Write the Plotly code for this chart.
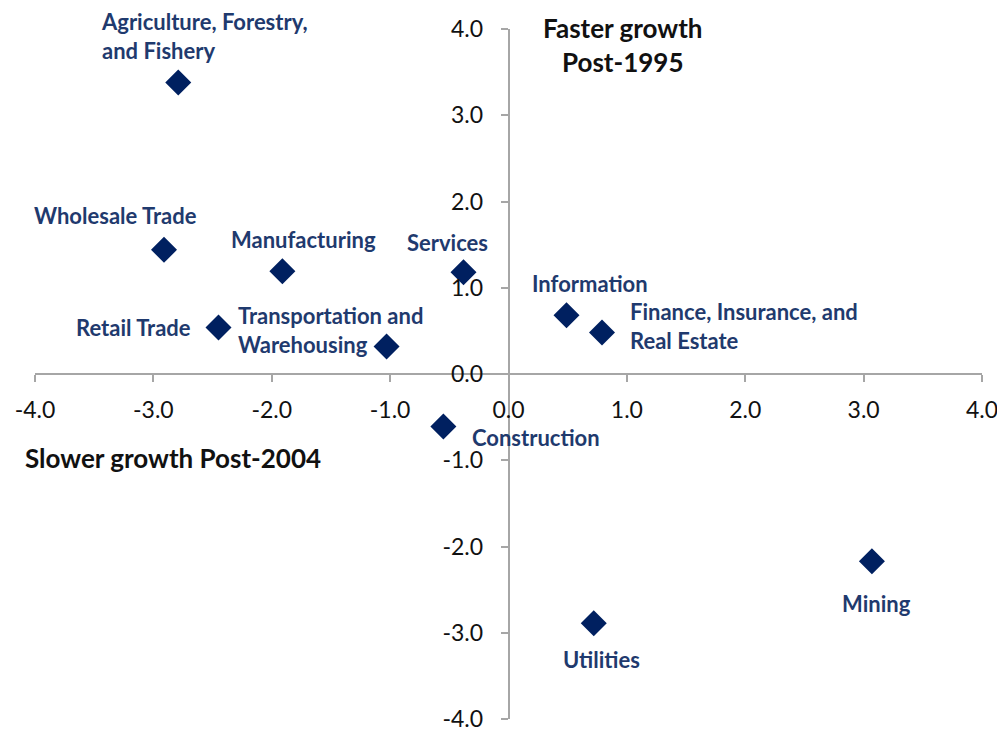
import plotly.graph_objects as go

# Data (percentage-point changes in productivity growth)
sectors = ["Agriculture, Forestry,<br>and Fishery", "Wholesale Trade", "Manufacturing", "Services",
           "Retail Trade", "Transportation and<br>Warehousing", "Information",
           "Finance, Insurance, and<br>Real Estate", "Construction", "Mining", "Utilities"]
x_vals = [-2.79, -2.91, -1.91, -0.38, -2.45, -1.03, 0.49, 0.79, -0.55, 3.07, 0.72]
y_vals = [3.38, 1.44, 1.19, 1.18, 0.54, 0.32, 0.68, 0.48, -0.61, -2.17, -2.89]
tick_vals = [-4, -3, -2, -1, 0, 1, 2, 3, 4]
tick_text = ["-4.0", "-3.0", "-2.0", "-1.0", "0.0", "1.0", "2.0", "3.0", "4.0"]

# label placement (pixel offsets from marker): xshift, yshift, xanchor, align
label_style = [
    (-79, 46, "left", "left"),
    (-49, 34, "center", "center"),
    (21, 32, "center", "center"),
    (-16, 30, "center", "center"),
    (-25, 0, "right", "right"),
    (-151, 16, "left", "left"),
    (23, 32, "center", "center"),
    (26, 7, "left", "left"),
    (27, -11, "left", "left"),
    (5, -42, "center", "center"),
    (8, -36, "center", "center"),
]

FONT = "Lato"
NAVY = "#002060"
LABEL = "#1F3A6E"

fig = go.Figure()
fig.add_trace(go.Scatter(
    x=x_vals, y=y_vals, mode="markers",
    marker=dict(symbol="diamond", size=20, color=NAVY, line=dict(width=0)),
    hoverinfo="skip", showlegend=False, cliponaxis=False,
))

annotations = []
for name, xv, yv, (dx, dy, xa, al) in zip(sectors, x_vals, y_vals, label_style):
    annotations.append(dict(
        x=xv, y=yv, xref="x", yref="y", text="<b>" + name + "</b>", showarrow=False,
        xshift=dx, yshift=dy, xanchor=xa, yanchor="middle", align=al,
        font=dict(family=FONT, size=22, color=LABEL),
    ))

annotations.append(dict(
    x=0.620, y=0.977, xref="paper", yref="paper", text="<b>Faster growth<br>Post-1995</b>",
    showarrow=False, xanchor="center", yanchor="middle", align="center",
    font=dict(family=FONT, size=26, color="#111111"),
))
annotations.append(dict(
    x=-0.0127, y=0.378, xref="paper", yref="paper", text="<b>Slower growth Post-2004</b>",
    showarrow=False, xanchor="left", yanchor="middle", align="left",
    font=dict(family=FONT, size=26, color="#111111"),
))

axis_common = dict(
    range=[-4, 4], tickmode="array", tickvals=tick_vals, ticktext=tick_text,
    showgrid=False, zeroline=False, showline=True, linecolor="#A6A6A6", linewidth=1.5,
    ticks="outside", ticklen=7, tickcolor="#A6A6A6", tickwidth=1.5,
    tickfont=dict(family=FONT, size=23, color="#111111"),
    anchor="free", position=0.5, automargin=False,
)

fig.update_layout(
    width=1005, height=729,
    margin=dict(l=27, r=31, t=21, b=18),
    paper_bgcolor="white", plot_bgcolor="white",
    xaxis=dict(**axis_common, side="bottom", ticklabelstandoff=9),
    yaxis=dict(**axis_common, side="left", ticklabelstandoff=13),
    annotations=annotations,
)

fig.write_html("out.html")
